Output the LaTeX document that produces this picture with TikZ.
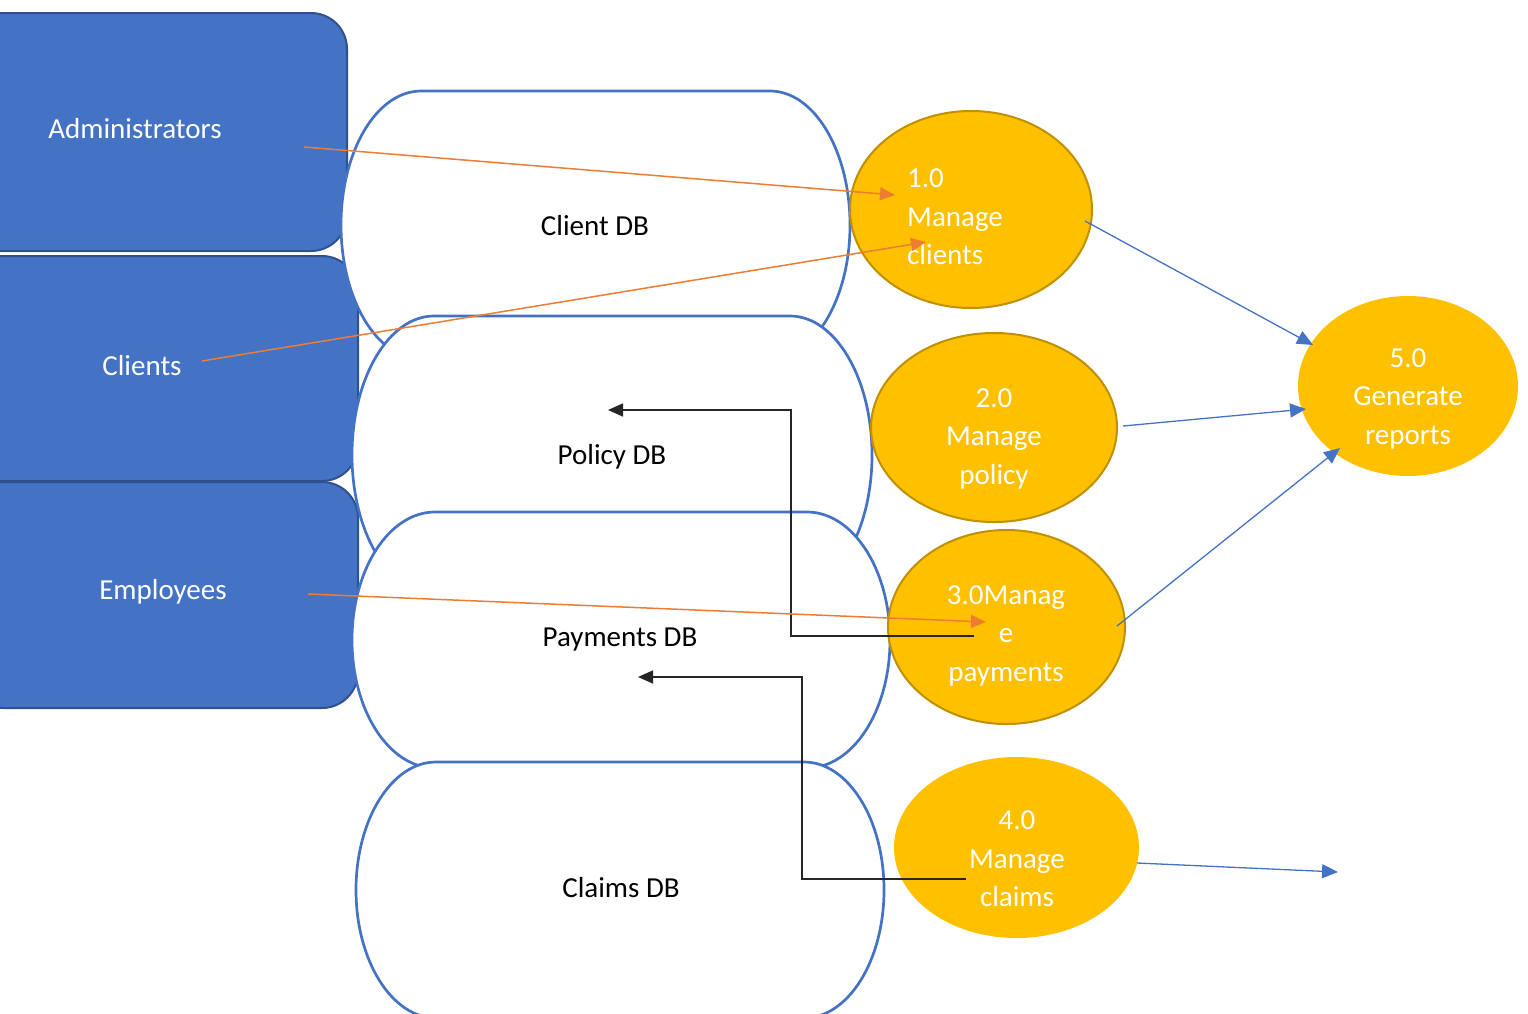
\documentclass[tikz,border=0pt]{standalone}
\usepackage{fontspec}
\setmainfont{Carlito}
\usetikzlibrary{arrows.meta,shapes.geometric}
\definecolor{boxblue}{HTML}{4472C4}
\definecolor{boxedge}{HTML}{2F528F}
\definecolor{gold}{HTML}{FFC000}
\definecolor{goldedge}{HTML}{BF9000}
\definecolor{orangeline}{HTML}{ED7D31}
\definecolor{darkline}{HTML}{262626}
\newcommand{\dbshape}[5]{%
  \draw[dbstyle] (#1-#3+#4,#2-#5) -- (#1+#3-#4,#2-#5)
    arc[start angle=90,end angle=-90,x radius=#4pt,y radius=#5pt]
    -- (#1-#3+#4,#2+#5)
    arc[start angle=-90,end angle=-270,x radius=#4pt,y radius=#5pt] -- cycle;}
\tikzset{
  txt/.style={font=\fontsize{29}{38.5}\selectfont, inner sep=0pt},
  actor/.style={txt, draw=boxedge, line width=2pt, fill=boxblue, rounded corners=36pt, text=white},
  dbstyle/.style={draw=boxblue, line width=2.7pt, fill=white},
  dbtext/.style={txt, text=black},
  proc/.style={ellipse, fill=gold, inner sep=0pt},
  procedge/.style={proc, draw=goldedge, line width=2pt},
  ptext/.style={txt, text=white, align=center},
  oarrow/.style={draw=orangeline, line width=1.5pt, -{Triangle[length=15pt,width=13pt]}},
  barrow/.style={draw=boxblue, line width=1.3pt, -{Triangle[length=16pt,width=14pt]}},
  karrow/.style={draw=darkline, line width=1.5pt, -{Triangle[length=15pt,width=13pt]}}
}
\begin{document}
\begin{tikzpicture}[x=1pt,y=-1pt]
\useasboundingbox (0,0) rectangle (1528,1013);
\clip (0,0) rectangle (1528,1013);
% actors
\node[actor, minimum width=423pt, minimum height=238pt] (adm) at (135.5,132) {};
\node[actor, minimum width=432pt, minimum height=225pt] (cli) at (142,368.5) {};
\node[actor, minimum width=390pt, minimum height=226pt] (emp) at (163,595) {};
\node[txt, text=white] (admt) at (135,128.5) {Administrators};
\node[txt, text=white] (clit) at (142,365.5) {Clients};
\node[txt, text=white] (empt) at (163,591.5) {Employees};
% data stores
\dbshape{595.5}{225}{254.5}{80}{134}
\node[dbtext] (cdb) at (595,225.5) {Client DB};
\dbshape{612}{455}{260}{82}{139}
\node[dbtext] (pdb) at (612,456.5) {Policy DB};
\dbshape{621}{640}{269}{83}{128}
\node[dbtext] (paydb) at (620,639.5) {Payments DB};
\dbshape{620}{890}{264}{80}{128}
\node[dbtext] (cldb) at (621,887.5) {Claims DB};
% processes
\node[procedge, minimum width=242pt, minimum height=197pt] (p1) at (971,209.5) {};
\node[procedge, minimum width=246pt, minimum height=189pt] (p2) at (994,427.5) {};
\node[procedge, minimum width=237pt, minimum height=194pt] (p3) at (1006.5,627) {};
\node[proc, minimum width=245pt, minimum height=181pt] (p4) at (1016.5,847.5) {};
\node[proc, minimum width=220pt, minimum height=180pt] (p5) at (1408,386) {};
\node[ptext, align=left, anchor=west] (p1t) at (907,217) {1.0\\Manage\\clients};
\node[ptext] (p2t) at (994,438.5) {2.0\\Manage\\policy};
\node[ptext] (p3t) at (1006,635.5) {3.0Manag\\e\\payments};
\node[ptext] (p4t) at (1017,859) {4.0\\Manage\\claims};
\node[ptext] (p5t) at (1408,398.5) {5.0\\Generate\\reports};
% connector end points
\coordinate (o1s) at (304,147); \coordinate (o1e) at (895,195);
\coordinate (o2s) at (202,361); \coordinate (o2e) at (926,242);
\coordinate (o3s) at (308,594); \coordinate (o3e) at (986,622);
\coordinate (b1s) at (1085,221); \coordinate (b1e) at (1313,345);
\coordinate (b2s) at (1123,426); \coordinate (b2e) at (1306,409);
\coordinate (b3s) at (1117,626); \coordinate (b3e) at (1340,448);
\coordinate (b4s) at (1137,863); \coordinate (b4e) at (1338,872);
\coordinate (k1s) at (974,636); \coordinate (k1v) at (791,500); \coordinate (k1e) at (608,410);
\coordinate (k2s) at (966,879); \coordinate (k2v) at (802,780); \coordinate (k2e) at (638,677);
% connectors
\draw[karrow] (k1s) -| (k1v) |- (k1e);
\draw[karrow] (k2s) -| (k2v) |- (k2e);
\draw[oarrow] (o1s) -- (o1e);
\draw[oarrow] (o2s) -- (o2e);
\draw[oarrow] (o3s) -- (o3e);
\draw[barrow] (b1s) -- (b1e);
\draw[barrow] (b2s) -- (b2e);
\draw[barrow] (b3s) -- (b3e);
\draw[barrow] (b4s) -- (b4e);
\end{tikzpicture}
\end{document}
